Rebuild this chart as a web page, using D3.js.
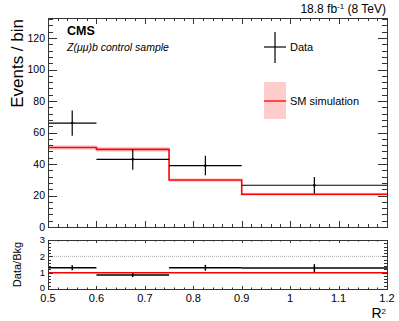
<!DOCTYPE html>
<html>
<head>
<meta charset="utf-8">
<script src="https://cdn.jsdelivr.net/npm/d3@7"></script>
<style>
  body { margin: 0; background: #fff; }
  svg { font-family: "Liberation Sans", Arial, sans-serif; display: block; }
</style>
</head>
<body>
<svg id="chart"></svg>
<script>
const svg_width = 399;
const svg_height = 321;

// bins in R^2
var binEdges = [0.5, 0.6, 0.75, 0.9, 1.2];
var dataCenters = [0.55, 0.675, 0.825, 1.05];
var dataValues = [66, 43, 39, 26.5];
var dataErrors = [8, 6.6, 6.2, 5.2];
var mcValues = [50.5, 49.3, 29.8, 20.8];
var mcErrors = [1.6, 1.6, 1.2, 1.0];
var ratioValues = [1.3, 0.86, 1.3, 1.28];
var ratioErrors = [0.15, 0.12, 0.18, 0.24];

var xTicks = [0.5, 0.6, 0.7, 0.8, 0.9, 1, 1.1, 1.2];
var yTicks = [0, 20, 40, 60, 80, 100, 120];
var rTicks = [0, 1, 2, 3];

var frame = { left: 48, right: 387 };
var main = { top: 18, bottom: 227 };
var ratio = { top: 240, bottom: 289 };

var svg = d3.select("svg#chart")
    .attr("width", svg_width)
    .attr("height", svg_height);

var x = d3.scaleLinear().domain([0.5, 1.2]).range([frame.left, frame.right]);
var y = d3.scaleLinear().domain([0, 132.7]).range([main.bottom, main.top]);
var yr = d3.scaleLinear().domain([0, 3]).range([ratio.bottom, ratio.top]);

var frameColor = "#333";

// tick marks drawn inward on all four sides
function drawTicks(yscale, top, bottom, yMajor, yMinorStep, xMajLen, xMinLen, yMajLen, yMinLen) {
  var g = svg.append("g").attr("stroke", frameColor).attr("stroke-width", 1);
  var xMinor = d3.range(0.5, 1.2001, 0.02);
  xMinor.forEach(v => {
    var major = Math.abs(v * 10 - Math.round(v * 10)) < 1e-6;
    var len = major ? xMajLen : xMinLen;
    var px = Math.round(x(v)) + 0.5;
    g.append("line").attr("x1", px).attr("x2", px).attr("y1", bottom).attr("y2", bottom - len);
    g.append("line").attr("x1", px).attr("x2", px).attr("y1", top).attr("y2", top + len);
  });
  var d = yscale.domain();
  var yMinor = d3.range(0, d[1] + 1e-6, yMinorStep);
  yMinor.forEach(v => {
    var major = yMajor.some(m => Math.abs(m - v) < 1e-6);
    var len = major ? yMajLen : yMinLen;
    var py = Math.round(yscale(v)) + 0.5;
    g.append("line").attr("x1", frame.left).attr("x2", frame.left + len).attr("y1", py).attr("y2", py);
    g.append("line").attr("x1", frame.right).attr("x2", frame.right - len).attr("y1", py).attr("y2", py);
  });
  svg.append("rect")
    .attr("x", frame.left + 0.5).attr("y", top + 0.5)
    .attr("width", frame.right - frame.left).attr("height", bottom - top)
    .attr("fill", "none").attr("stroke", frameColor).attr("stroke-width", 1);
}

// ---- main panel ----
// MC uncertainty band
var bandArea = d3.area()
  .curve(d3.curveStepAfter)
  .x(d => x(d.x))
  .y0(d => y(d.v - d.e))
  .y1(d => y(d.v + d.e));
var stepPts = binEdges.map((e, i) => {
  var k = Math.min(i, mcValues.length - 1);
  return { x: e, v: mcValues[k], e: mcErrors[k] };
});
svg.append("path").datum(stepPts)
  .attr("d", bandArea)
  .attr("fill", "#ff9999").attr("opacity", 0.45);

var stepLine = d3.line().curve(d3.curveStepAfter).x(d => x(d.x)).y(d => y(d.v));
svg.append("path").datum(stepPts)
  .attr("d", stepLine)
  .attr("fill", "none").attr("stroke", "#ff0000").attr("stroke-width", 1.6);

// data points
var dg = svg.append("g").attr("stroke", "#000").attr("stroke-width", 1.2);
dataValues.forEach((v, i) => {
  dg.append("line").attr("x1", x(binEdges[i])).attr("x2", x(binEdges[i + 1]))
    .attr("y1", y(v)).attr("y2", y(v));
  dg.append("line").attr("x1", x(dataCenters[i])).attr("x2", x(dataCenters[i]))
    .attr("y1", y(v - dataErrors[i])).attr("y2", y(v + dataErrors[i]));
});
svg.selectAll("circle.dpt").data(dataValues).enter().append("circle")
  .attr("class", "dpt")
  .attr("cx", (d, i) => x(dataCenters[i])).attr("cy", d => y(d)).attr("r", 1.3).attr("fill", "#000");

drawTicks(y, main.top, main.bottom, yTicks, 4, 6, 3, 9, 5);

// y tick labels
svg.append("g").selectAll("text").data(yTicks).enter().append("text")
  .attr("x", frame.left - 3).attr("y", d => y(d))
  .attr("dy", "0.35em").attr("text-anchor", "end")
  .style("font-size", "10.5px").text(d => d);

svg.append("text")
  .attr("transform", "translate(23," + (main.top + 1) + ") rotate(-90)")
  .attr("text-anchor", "end")
  .style("font-size", "17px")
  .text("Events / bin");

// header texts
svg.append("text").attr("x", 67).attr("y", 35)
  .style("font-size", "12.5px").style("font-weight", "bold").text("CMS");
svg.append("text").attr("x", 67).attr("y", 51)
  .style("font-size", "10.5px").style("font-style", "italic").text("Z(\u03bc\u03bc)b control sample");

var lumi = svg.append("text").attr("x", frame.right - 1).attr("y", 13)
  .attr("text-anchor", "end").style("font-size", "12px");
lumi.append("tspan").text("18.8 fb");
lumi.append("tspan").attr("dy", -4).style("font-size", "8px").text("-1");
lumi.append("tspan").attr("dy", 4).text(" (8 TeV)");

// legend
var lg = svg.append("g");
lg.append("line").attr("x1", 264).attr("x2", 286).attr("y1", 47).attr("y2", 47).attr("stroke", "#000").attr("stroke-width", 1.2);
lg.append("line").attr("x1", 275).attr("x2", 275).attr("y1", 32).attr("y2", 63).attr("stroke", "#000").attr("stroke-width", 1.2);
lg.append("text").attr("x", 290).attr("y", 47).attr("dy", "0.35em").style("font-size", "11px").text("Data");
lg.append("rect").attr("x", 264).attr("y", 82).attr("width", 22).attr("height", 37).attr("fill", "#ffcccc");
lg.append("line").attr("x1", 264).attr("x2", 286).attr("y1", 101).attr("y2", 101).attr("stroke", "#ff0000").attr("stroke-width", 1.3);
lg.append("text").attr("x", 290).attr("y", 101).attr("dy", "0.35em").style("font-size", "11px").text("SM simulation");

// ---- ratio panel ----
svg.append("line").attr("x1", x(0.5)).attr("x2", x(1.2)).attr("y1", yr(2)).attr("y2", yr(2))
  .attr("stroke", "#aaa").attr("stroke-width", 1).attr("stroke-dasharray", "1,1");
svg.append("line").attr("x1", x(0.5)).attr("x2", x(1.2)).attr("y1", yr(1)).attr("y2", yr(1))
  .attr("stroke", "#ff0000").attr("stroke-width", 1.5);

var rg = svg.append("g").attr("stroke", "#000").attr("stroke-width", 1.5);
ratioValues.forEach((v, i) => {
  rg.append("line").attr("x1", x(binEdges[i])).attr("x2", x(binEdges[i + 1]))
    .attr("y1", yr(v)).attr("y2", yr(v));
  rg.append("line").attr("x1", x(dataCenters[i])).attr("x2", x(dataCenters[i]))
    .attr("y1", yr(v - ratioErrors[i])).attr("y2", yr(v + ratioErrors[i]));
});

drawTicks(yr, ratio.top, ratio.bottom, rTicks, 0.2, 3, 1.5, 5, 3);

svg.append("g").selectAll("text").data(rTicks).enter().append("text")
  .attr("x", frame.left - 3).attr("y", d => yr(d) - (d === 0 ? 1 : 0))
  .attr("dy", "0.35em").attr("text-anchor", "end")
  .style("font-size", "9.5px").text(d => d);

svg.append("text")
  .attr("transform", "translate(21," + ((ratio.top + ratio.bottom) / 2) + ") rotate(-90)")
  .attr("text-anchor", "middle")
  .style("font-size", "11px")
  .text("Data/Bkg");

// x tick labels
svg.append("g").selectAll("text").data(xTicks).enter().append("text")
  .attr("x", d => x(d)).attr("y", 302)
  .attr("text-anchor", "middle")
  .style("font-size", "11px").text(d => d);

var xl = svg.append("text").attr("x", frame.right - 1).attr("y", 318)
  .attr("text-anchor", "end").style("font-size", "14px");
xl.append("tspan").text("R");
xl.append("tspan").attr("dy", -4).style("font-size", "8px").text("2");
</script>
</body>
</html>
